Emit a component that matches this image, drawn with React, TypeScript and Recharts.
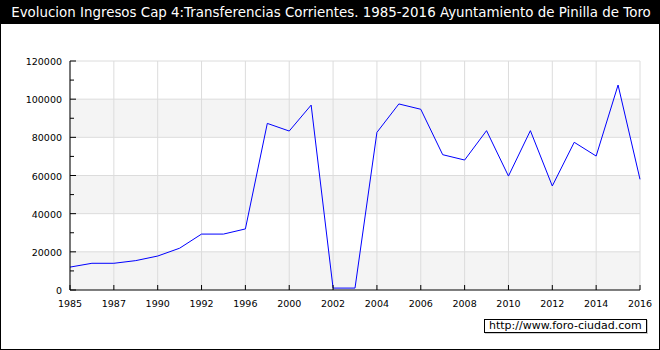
import React from 'react'
import {
  LineChart,
  Line,
  XAxis,
  YAxis,
  ReferenceLine,
  ReferenceArea,
} from 'recharts'

// ─── data ────────────────────

const years = [
  '1985', '1986', '1987', '1988', '1990', '1991', '1992', '1994', '1996',
  '1998', '2000', '2001', '2002', '2003', '2004', '2005', '2006', '2007',
  '2008', '2009', '2010', '2011', '2012', '2013', '2014', '2015', '2016',
]

const ingresos = [
  12000, 14000, 14000, 15400, 17800, 21900, 29300, 29300, 32000,
  87300, 83300, 96900, 1000, 1000, 82600, 97500, 94700, 70900,
  68100, 83500, 59700, 83500, 54500, 77400, 70200, 107400, 58000,
]

const xLabels = [
  '1985', '1987', '1990', '1992', '1996', '2000', '2002', '2004',
  '2006', '2008', '2010', '2012', '2014', '2016',
]

const yTicks = [0, 10000, 20000, 30000, 40000, 50000, 60000, 70000, 80000, 90000, 100000, 110000, 120000]
const yGrid = [20000, 40000, 60000, 80000, 100000, 120000]
const bands: [number, number][] = [[0, 20000], [40000, 60000], [80000, 100000]]

const title = 'Evolucion Ingresos Cap 4:Transferencias Corrientes. 1985-2016 Ayuntamiento de Pinilla de Toro'

const FONT = '"DejaVu Sans", Verdana, sans-serif'
const GRID = '#dcdcdc'

function XTick(props: any) {
  const { x, y, payload } = props
  return (
    <g>
      <line x1={x} x2={x} y1={y} y2={y - 5} stroke="#000" />
      <text x={x} y={y + 17} textAnchor="middle" fontSize={9.5} fontFamily={FONT} fill="#000">
        {payload.value}
      </text>
    </g>
  )
}

function YTick(props: any) {
  const { x, y, payload } = props
  const major = payload.value % 20000 === 0
  return (
    <g>
      <line x1={x} x2={x + (major ? 6 : 4)} y1={y} y2={y} stroke="#000" />
      {major && (
        <text x={x - 8} y={y + 4} textAnchor="end" fontSize={9.5} fontFamily={FONT} fill="#000">
          {payload.value}
        </text>
      )}
    </g>
  )
}

export default function App() {
  const data = years.map((year, i) => ({ year, value: ingresos[i] }))

  return (
    <div
      style={{
        position: 'absolute',
        left: 0,
        top: 0,
        width: 660,
        height: 350,
        background: '#fff',
        border: '1px solid #000',
        boxSizing: 'border-box',
        overflow: 'hidden',
      }}
    >
      <div
        style={{
          position: 'absolute',
          left: 0,
          top: 0,
          width: 660,
          height: 23,
          background: '#000',
          color: '#fff',
          fontFamily: FONT,
          fontSize: 13.4,
          lineHeight: '23px',
          textAlign: 'center',
          whiteSpace: 'nowrap',
        }}
      >
        {title}
      </div>

      <div style={{ position: 'absolute', left: -1, top: -1 }}>
        <LineChart width={660} height={350} data={data} margin={{ top: 61, right: 20, bottom: 0, left: 0 }}>
          {bands.map(([a, b]) => (
            <ReferenceArea key={a} y1={a} y2={b} fill="#f4f4f4" fillOpacity={1} stroke="none" ifOverflow="extendDomain" />
          ))}
          {yGrid.map((v) => (
            <ReferenceLine key={'h' + v} y={v} stroke={GRID} />
          ))}
          {xLabels.map((v) => (
            <ReferenceLine key={'v' + v} x={v} stroke={GRID} />
          ))}
          <XAxis
            dataKey="year"
            scale="point"
            padding={{ left: 0, right: 0 }}
            ticks={xLabels}
            interval={0}
            height={60}
            tickSize={0}
            tickMargin={0}
            tickLine={false}
            axisLine={{ stroke: '#000' }}
            tick={<XTick />}
          />
          <YAxis
            domain={[0, 120000]}
            ticks={yTicks}
            interval={0}
            width={70}
            tickSize={0}
            tickMargin={0}
            tickLine={false}
            axisLine={{ stroke: '#000' }}
            tick={<YTick />}
          />
          <Line
            type="linear"
            dataKey="value"
            stroke="#0000ff"
            strokeWidth={1}
            dot={false}
            isAnimationActive={false}
          />
        </LineChart>
      </div>

      <div
        style={{
          position: 'absolute',
          left: 483,
          top: 318,
          width: 163,
          height: 14,
          boxSizing: 'border-box',
          paddingLeft: 4,
          border: '1px solid #000',
          background: '#fff',
          fontFamily: FONT,
          fontSize: 11,
          lineHeight: '12px',
          color: '#000',
          whiteSpace: 'nowrap',
          boxShadow: '1px 1px 0 #ccc',
        }}
      >
        http://www.foro-ciudad.com
      </div>
    </div>
  )
}
